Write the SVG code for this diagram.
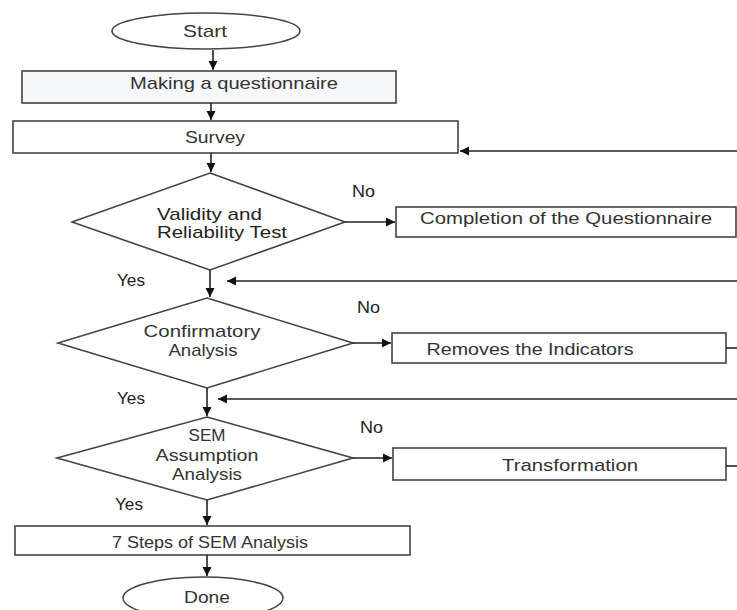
<svg xmlns="http://www.w3.org/2000/svg" width="737" height="610" viewBox="0 0 737 610">
<defs>
<marker id="ah" markerWidth="10" markerHeight="10" refX="9" refY="5" orient="auto" markerUnits="userSpaceOnUse">
<path d="M0,0.5 L9,5 L0,9.5 Z" fill="#111"/>
</marker>
</defs>
<style>
.box{fill:#fff;stroke:#444;stroke-width:1.6}
.t{font-family:"Liberation Sans",Arial,sans-serif;font-size:17px;fill:#333;text-anchor:middle}
.l{font-family:"Liberation Sans",Arial,sans-serif;font-size:17px;fill:#222}
.c{fill:none;stroke:#222;stroke-width:1.6}
</style>
<rect width="737" height="610" fill="#fff"/>
<g id="start">
<ellipse class="box" cx="206" cy="31" rx="94" ry="18"/>
<text class="t" x="205" y="37" textLength="44" lengthAdjust="spacingAndGlyphs">Start</text>
</g>
<g id="making">
<rect class="box" x="22" y="71" width="374" height="32" style="fill:#f6f7f9"/>
<text class="t" x="234" y="89" textLength="208" lengthAdjust="spacingAndGlyphs">Making a questionnaire</text>
</g>
<g id="survey">
<rect class="box" x="13" y="121" width="445" height="32"/>
<text class="t" x="215" y="143" textLength="60" lengthAdjust="spacingAndGlyphs">Survey</text>
</g>
<g id="validity">
<polygon class="box" points="210,173 345,222 210,270 72,222"/>
<text class="l" x="157" y="220" textLength="105" lengthAdjust="spacingAndGlyphs">Validity and</text>
<text class="l" x="157" y="238" textLength="130" lengthAdjust="spacingAndGlyphs">Reliability Test</text>
</g>
<g id="completion">
<rect class="box" x="396" y="207" width="340" height="30"/>
<text class="t" x="566" y="224" textLength="292" lengthAdjust="spacingAndGlyphs">Completion of the Questionnaire</text>
</g>
<g id="confirmatory">
<polygon class="box" points="207,298 353,343 207,388 58,343"/>
<text class="t" x="202" y="337" textLength="117" lengthAdjust="spacingAndGlyphs">Confirmatory</text>
<text class="t" x="203" y="356" textLength="69" lengthAdjust="spacingAndGlyphs">Analysis</text>
</g>
<g id="removes">
<rect class="box" x="392" y="333" width="334" height="30"/>
<text class="t" x="530" y="355" textLength="207" lengthAdjust="spacingAndGlyphs">Removes the Indicators</text>
</g>
<g id="sem">
<polygon class="box" points="207,417 353,458 207,500 57,458"/>
<text class="t" x="207" y="441" textLength="37" lengthAdjust="spacingAndGlyphs">SEM</text>
<text class="t" x="207" y="461" textLength="103" lengthAdjust="spacingAndGlyphs">Assumption</text>
<text class="t" x="207" y="480" textLength="70" lengthAdjust="spacingAndGlyphs">Analysis</text>
</g>
<g id="transformation">
<rect class="box" x="393" y="448" width="333" height="32"/>
<text class="t" x="570" y="471" textLength="136" lengthAdjust="spacingAndGlyphs">Transformation</text>
</g>
<g id="steps">
<rect class="box" x="15" y="526" width="395" height="29"/>
<text class="t" x="210" y="548" textLength="196" lengthAdjust="spacingAndGlyphs">7 Steps of SEM Analysis</text>
</g>
<g id="done">
<ellipse class="box" cx="203" cy="598" rx="80" ry="21"/>
<text class="t" x="207" y="603" textLength="46" lengthAdjust="spacingAndGlyphs">Done</text>
</g>
<g id="connectors">
<line class="c" x1="213" y1="50" x2="213" y2="70" marker-end="url(#ah)"/>
<line class="c" x1="211" y1="103" x2="211" y2="120" marker-end="url(#ah)"/>
<line class="c" x1="211" y1="153" x2="211" y2="172" marker-end="url(#ah)"/>
<line class="c" x1="737" y1="151" x2="460" y2="151" marker-end="url(#ah)"/>
<line class="c" x1="345" y1="222" x2="395" y2="222" marker-end="url(#ah)"/>
<text class="l" x="352" y="197" textLength="23" lengthAdjust="spacingAndGlyphs">No</text>
<line class="c" x1="210" y1="270" x2="210" y2="297" marker-end="url(#ah)"/>
<text class="l" x="117" y="286" textLength="28" lengthAdjust="spacingAndGlyphs">Yes</text>
<line class="c" x1="737" y1="281" x2="227" y2="281" marker-end="url(#ah)"/>
<line class="c" x1="353" y1="343" x2="391" y2="343" marker-end="url(#ah)"/>
<text class="l" x="357" y="313" textLength="23" lengthAdjust="spacingAndGlyphs">No</text>
<line class="c" x1="726" y1="348" x2="737" y2="348"/>
<line class="c" x1="737" y1="399" x2="218" y2="399" marker-end="url(#ah)"/>
<line class="c" x1="207" y1="388" x2="207" y2="416" marker-end="url(#ah)"/>
<text class="l" x="117" y="404" textLength="28" lengthAdjust="spacingAndGlyphs">Yes</text>
<line class="c" x1="353" y1="458" x2="392" y2="458" marker-end="url(#ah)"/>
<text class="l" x="360" y="433" textLength="23" lengthAdjust="spacingAndGlyphs">No</text>
<line class="c" x1="726" y1="466" x2="737" y2="466"/>
<line class="c" x1="207" y1="500" x2="207" y2="525" marker-end="url(#ah)"/>
<text class="l" x="115" y="510" textLength="28" lengthAdjust="spacingAndGlyphs">Yes</text>
<line class="c" x1="207" y1="555" x2="207" y2="576" marker-end="url(#ah)"/>
</g>
</svg>
